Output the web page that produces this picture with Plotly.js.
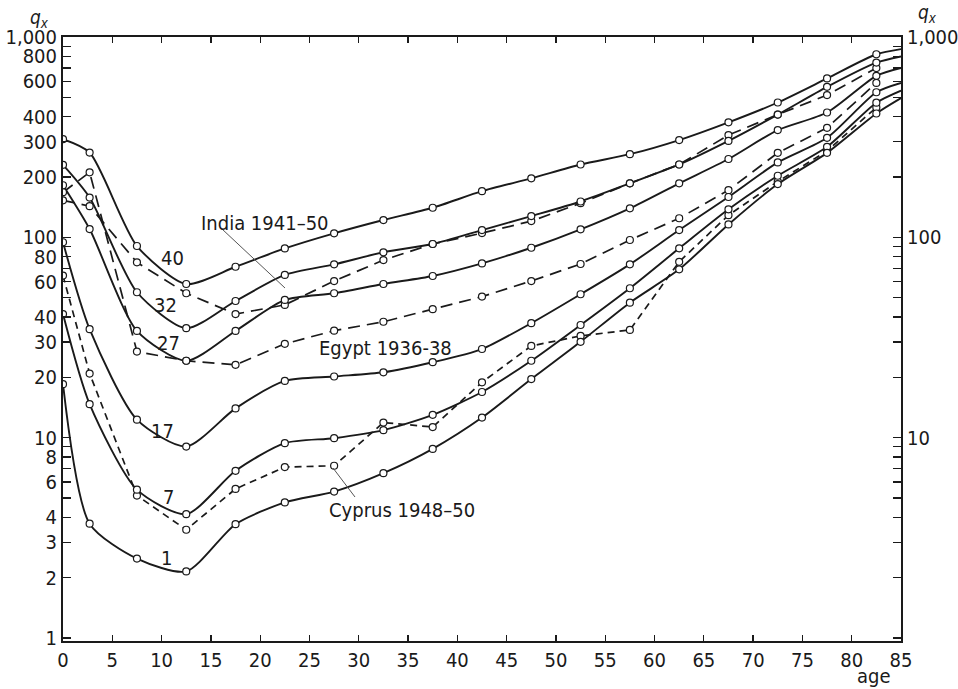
<!DOCTYPE html>
<html>
<head>
<meta charset="utf-8">
<script src="https://cdn.plot.ly/plotly-3.0.1.min.js"></script>
<style>
  html, body { margin: 0; padding: 0; background: #ffffff; }
  #chart { width: 958px; height: 689px; }
</style>
</head>
<body>
<div id="chart"></div>
<script>
// ---- data (q_x per 1,000) ----
const ages = [0, 2.7, 7.5, 12.5, 17.5, 22.5, 27.5, 32.5, 37.5, 42.5, 47.5, 52.5, 57.5, 62.5, 67.5, 72.5, 77.5, 82.5];
const ageEnd = 85;

const level40 = [309, 265, 90.5, 58.5, 71.3, 88, 104.7, 122, 140.5, 170, 197, 231, 260, 306, 375, 471, 621, 820];
const level32 = [230, 158, 53.2, 35.2, 48.1, 64.9, 73.3, 84.2, 92.6, 108.7, 127.7, 151, 186, 231, 303, 410, 564, 745];
const level27 = [182, 110, 34.1, 24.2, 34.1, 48.7, 52.6, 58.5, 64.1, 74.1, 88.7, 109.6, 139.5, 186, 246, 343, 420, 640];
const level17 = [94.5, 34.8, 12.3, 9.03, 14.0, 19.2, 20.2, 21.2, 23.8, 27.7, 37.3, 52, 73.3, 108.7, 159, 236.5, 314, 530];
const level7  = [41.4, 14.7, 5.5, 4.15, 6.83, 9.39, 9.94, 10.9, 13.0, 16.9, 24.2, 36.5, 55.7, 88.1, 138, 203, 283, 470];
const level1  = [18.5, 3.72, 2.49, 2.15, 3.70, 4.75, 5.38, 6.65, 8.79, 12.6, 19.6, 30.1, 47.2, 69.2, 116, 184.5, 264, 415];

// value of each model curve where it meets the right-hand axis (age 85)
const endValues = [870, 800, 700, 590, 540, 495];

const india  = [153, 143, 75, 52.6, 41.4, 46, 60.5, 77, 92.6, 105, 120.5, 148, 186, 231, 324, 410, 513, 700];
const egypt  = [168, 211, 26.9, 24.2, 23.1, 29.4, 34.2, 37.9, 43.8, 50.6, 60.5, 73.6, 97, 124.5, 172, 264, 352, 590];
const cyprus = [64.4, 20.9, 5.14, 3.47, 5.55, 7.13, 7.24, 11.9, 11.3, 18.9, 28.7, 32.2, 34.5, 75.5, 129, 190, 270, 445];

const levelLabels = ['40', '32', '27', '17', '7', '1'];
const seriesLabels = ['India 1941\u201350', 'Egypt 1936-38', 'Cyprus 1948\u201350'];

const leftTickLabels = {1:'1', 2:'2', 3:'3', 4:'4', 6:'6', 8:'8', 10:'10', 20:'20', 30:'30', 40:'40', 60:'60', 80:'80',
                        100:'100', 200:'200', 300:'300', 400:'400', 600:'600', 800:'800', 1000:'1,000'};
const rightTickLabels = {10:'10', 100:'100', 1000:'1,000'};
const xTicks = [0,5,10,15,20,25,30,35,40,45,50,55,60,65,70,75,80,85];

// ---- build ----
const FONT = '"DejaVu Sans Condensed", "DejaVu Sans", sans-serif';
const INK = '#1a1a1a';

const yTickVals = [];
[1, 10, 100].forEach(d => { for (let k = 1; k <= 9; k++) yTickVals.push(k * d); });
yTickVals.push(1000);
const leftText = yTickVals.map(v => leftTickLabels[v] || '');
const rightText = yTickVals.map(v => rightTickLabels[v] || '');

const models = [level40, level32, level27, level17, level7, level1];
const countries = [[india, '12px,7px'], [egypt, '12px,7px'], [cyprus, '7px,5px']];

const lineTraces = [];
const markerTraces = [];
countries.forEach(([vals, dash]) => {
  lineTraces.push({
    x: ages, y: vals, type: 'scatter', mode: 'lines',
    line: {color: INK, width: 1.7, dash: dash}, hoverinfo: 'skip', showlegend: false
  });
});
models.forEach((vals, i) => {
  lineTraces.push({
    x: ages.concat([ageEnd]), y: vals.concat([endValues[i]]), type: 'scatter', mode: 'lines',
    line: {color: INK, width: 1.9, shape: 'spline', smoothing: 0.7}, hoverinfo: 'skip', showlegend: false
  });
});
countries.map(c => c[0]).concat(models).forEach(vals => {
  markerTraces.push({
    x: ages, y: vals, type: 'scatter', mode: 'markers',
    marker: {symbol: 'circle', size: 7, color: '#ffffff', line: {color: INK, width: 1.2}},
    hoverinfo: 'skip', showlegend: false
  });
});
const dummyRight = {x: [ageEnd], y: [10], yaxis: 'y2', type: 'scatter', mode: 'markers',
  marker: {opacity: 0}, hoverinfo: 'skip', showlegend: false};

const traces = lineTraces.concat(markerTraces, [dummyRight]);

// plot area in pixels: x 63..901, y 37..641
const PL = 63, PR = 901, PT = 37, PB = 641;
const px = p => (p - PL) / (PR - PL);
const py = p => (PB - p) / (PB - PT);

function label(text, x, y, size) {
  return {text: text, xref: 'paper', yref: 'paper', x: px(x), y: py(y),
    xanchor: 'center', yanchor: 'middle', showarrow: false,
    font: {family: FONT, size: size, color: INK}};
}

const labelPos = [[172, 258], [165, 305], [168, 343], [162, 431], [168, 497], [166, 558]];
const seriesPos = [[265, 223], [385, 348], [402, 510]];

const annotations = [];
levelLabels.forEach((t, i) => annotations.push(label(t, labelPos[i][0], labelPos[i][1], 20)));
seriesLabels.forEach((t, i) => annotations.push(label(t, seriesPos[i][0], seriesPos[i][1], 20)));
annotations.push(label('<i>q</i><sub><i>x</i></sub>', 39, 18, 19));
annotations.push(label('<i>q</i><sub><i>x</i></sub>', 927, 14, 19));
annotations.push(label('age', 874, 676, 20));

const shapes = [
  {type: 'line', xref: 'paper', yref: 'paper', x0: px(222), y0: py(229), x1: px(285), y1: py(288),
   line: {color: '#555555', width: 1}},
  {type: 'line', xref: 'paper', yref: 'paper', x0: px(333), y0: py(468), x1: px(355), y1: py(497),
   line: {color: '#555555', width: 1}}
];

const axisCommon = {
  showgrid: false, zeroline: false, showline: true, linecolor: INK, linewidth: 2,
  ticks: 'inside', tickcolor: INK, tickwidth: 1.3,
  tickfont: {family: FONT, size: 20, color: INK}
};

const layout = {
  width: 958, height: 689,
  margin: {l: PL, r: 958 - PR, t: PT, b: 689 - PB, pad: 0},
  paper_bgcolor: '#ffffff', plot_bgcolor: '#ffffff',
  showlegend: false,
  xaxis: Object.assign({}, axisCommon, {
    range: [0, 85], tickmode: 'array', tickvals: xTicks, ticktext: xTicks.map(String),
    ticklen: 6, mirror: 'ticks'
  }),
  yaxis: Object.assign({}, axisCommon, {
    type: 'log', range: [-0.015, 3.0], tickmode: 'array', tickvals: yTickVals, ticktext: leftText,
    ticklen: 8
  }),
  yaxis2: Object.assign({}, axisCommon, {
    type: 'log', range: [-0.015, 3.0], tickmode: 'array', tickvals: yTickVals, ticktext: rightText,
    ticklen: 8, overlaying: 'y', side: 'right'
  }),
  annotations: annotations,
  shapes: shapes
};

Plotly.newPlot('chart', traces, layout, {staticPlot: true, displayModeBar: false});
</script>
</body>
</html>
